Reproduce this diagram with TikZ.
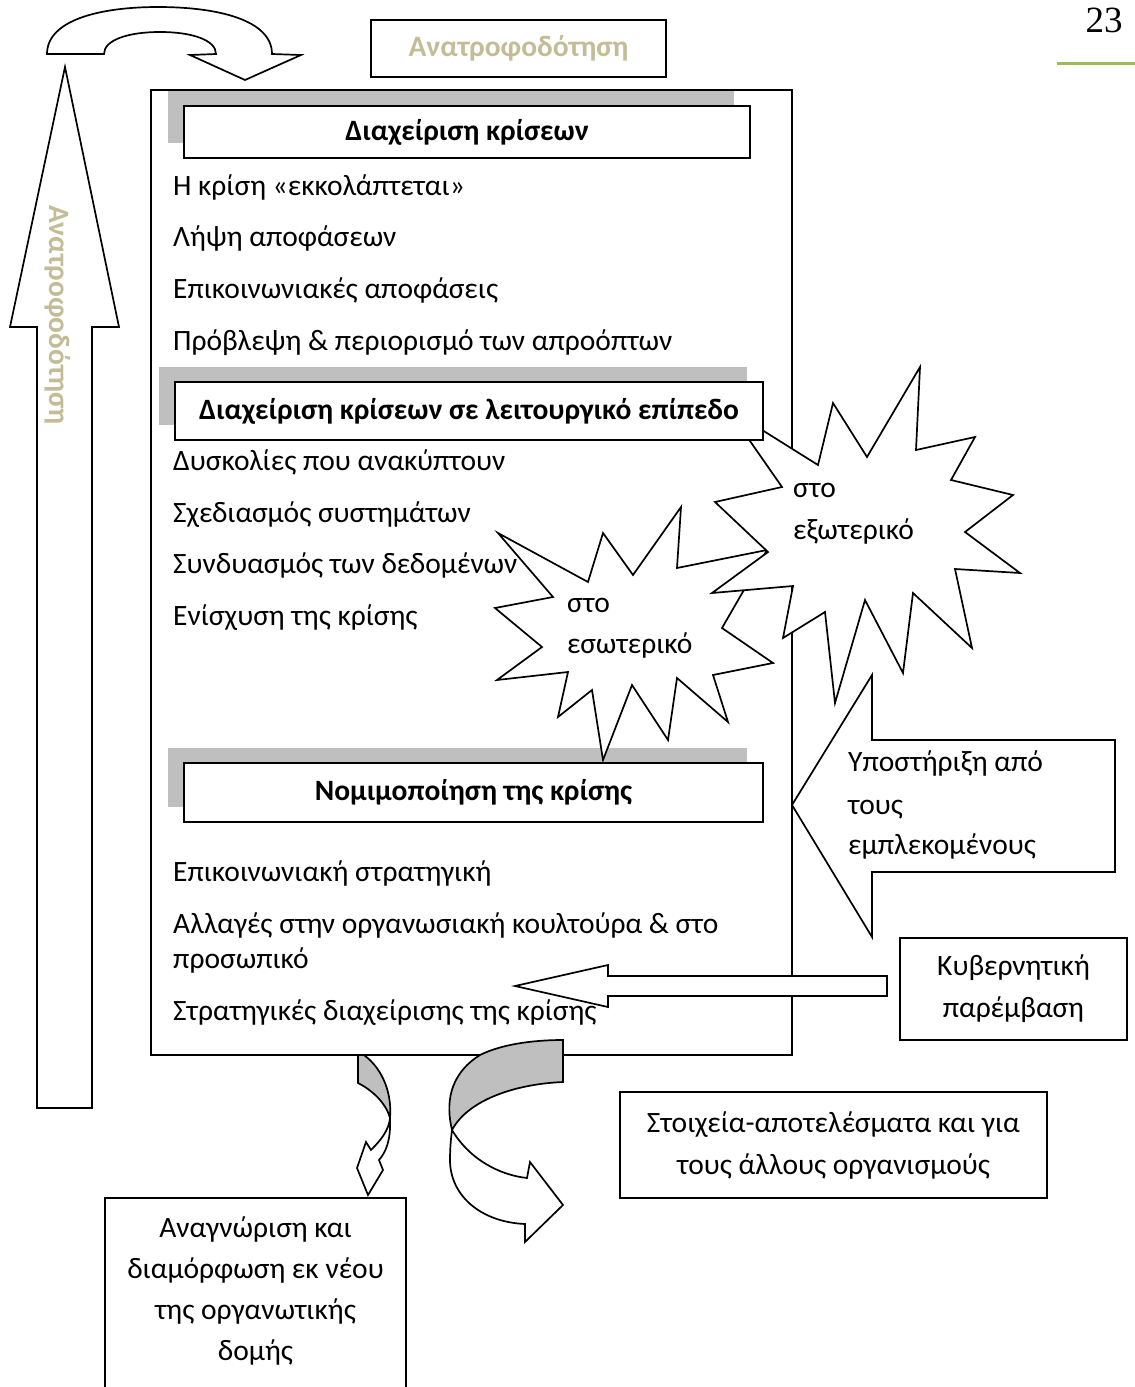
\documentclass[tikz,border=0pt]{standalone}
\usepackage{fontspec}
\setmainfont{Carlito}
\newfontfamily\pagenumfont{Liberation Serif}
\definecolor{beige}{RGB}{196,188,150}
\definecolor{shadowgrey}{RGB}{191,191,191}
\definecolor{pagegreen}{RGB}{155,187,89}
\begin{document}
\begin{tikzpicture}[x=1pt,y=-1pt,
  outline/.style={draw=black, line width=1.7pt, fill=white, line join=miter},
  body/.style={anchor=west, inner sep=0pt, font=\fontsize{29.5}{35}\selectfont, text height=20.5pt, text depth=6pt},
  head/.style={draw=black, line width=2pt, fill=white, inner sep=0pt, font=\bfseries\fontsize{29.5}{35}\selectfont},
  labelbox/.style={draw=black, line width=1.7pt, fill=white, align=center, inner sep=0pt, font=\fontsize{29.5}{42}\selectfont},
  fbtext/.style={text=beige, font=\bfseries\fontsize{29.5}{35}\selectfont, inner sep=0pt}]
\useasboundingbox[fill=white] (0,0) rectangle (1135,1387);

% page number
\node[font=\pagenumfont\fontsize{37}{40}\selectfont, inner sep=0pt] (pagenum) at (1104,20) {23};
\coordinate (gl) at (1057,63);
\coordinate (gr) at (1135,63);
\draw[pagegreen, line width=3pt] (gl) -- (gr);

% main box
\node[draw, line width=1.7pt, fill=white, minimum width=641pt, minimum height=965pt, inner sep=0pt] (mainbox) at (471.5,572.5) {};

% top feedback box
\node[draw, line width=1.7pt, fill=white, minimum width=295pt, minimum height=57pt, fbtext] (fbbox) at (518.5,48.5) {Ανατροφοδότηση};

% U-turn arrow
\draw[outline] (47,54) .. controls (47,20) and (100,7) .. (158,7) .. controls (218,7) and (272,20) .. (272,54) -- (301,55) -- (245,80) -- (190,55) -- (216,54) .. controls (216,40) and (192,32) .. (160,32) .. controls (128,32) and (104,40) .. (104,54) -- cycle;

% left up arrow
\draw[outline] (65,67) -- (119,327) -- (92,327) -- (92,1108) -- (37,1108) -- (37,327) -- (10,327) -- cycle;
\node[fbtext, rotate=-90] (fbleft) at (58,315) {Ανατροφοδότηση};

% header 1
\fill[shadowgrey] (168,91) rectangle (734,143);
\node[head, minimum width=566pt, minimum height=52pt] (h1) at (467,132) {Διαχείριση κρίσεων};

\node[body] (t1) at (173,188) {Η κρίση «εκκολάπτεται»};
\node[body] (t2) at (173,239) {Λήψη αποφάσεων};
\node[body] (t3) at (173,291) {Επικοινωνιακές αποφάσεις};
\node[body] (t4) at (173,343) {Πρόβλεψη \& περιορισμό των απροόπτων};

\node[body] (t5) at (173,463) {Δυσκολίες που ανακύπτουν};
\node[body] (t6) at (173,515) {Σχεδιασμός συστημάτων};
\node[body] (t7) at (173,566) {Συνδυασμός των δεδομένων};
\node[body] (t8) at (173,618) {Ενίσχυση της κρίσης};

% header 3 shadow
\fill[shadowgrey] (168,748) rectangle (747,807);

% small star (internal)
\draw[outline] (498,533) -- (553,597) -- (495,608) -- (542,647) -- (497,680) -- (568,672) -- (558,717) -- (592,690) -- (603,760) -- (632,685) -- (668,740) -- (677,678) -- (728,722) -- (713,675) -- (773,663) -- (722,628) -- (767,550) -- (677,568) -- (681,507) -- (633,575) -- (603,533) -- (588,582) -- cycle;
\node[body] (s1a) at (567,605) {στο};
\node[body] (s1b) at (567,646) {εσωτερικό};

% big star (external)
\draw[outline] (920,367) -- (916,450) -- (975,437) -- (951,480) -- (1013,495) -- (965,532) -- (1020,573) -- (955,569) -- (972,648) -- (913,593) -- (903,673) -- (865,600) -- (835,703) -- (825,612) -- (783,638) -- (793,586) -- (712,593) -- (768,552) -- (715,502) -- (782,487) -- (727,408) -- (818,465) -- (833,403) -- (867,457) -- cycle;
\node[body] (s2a) at (793,490) {στο};
\node[body] (s2b) at (793,532) {εξωτερικό};

% header 2
\fill[shadowgrey] (159,367) rectangle (747,425);
\node[head, minimum width=588pt, minimum height=58pt] (h2) at (469,411) {Διαχείριση κρίσεων σε λειτουργικό επίπεδο};

% header 3
\node[head, minimum width=579pt, minimum height=59pt] (h3) at (473.5,792.5) {Νομιμοποίηση της κρίσης};

\node[body] (t9) at (173,874) {Επικοινωνιακή στρατηγική};
\node[body] (t10) at (173,926) {Αλλαγές στην οργανωσιακή κουλτούρα \& στο};
\node[body] (t11) at (173,961) {προσωπικό};
\node[body] (t12) at (173,1013) {Στρατηγικές διαχείρισης της κρίσης};

% support arrow
\draw[outline] (792,805) -- (872,675) -- (872,740) -- (1115,740) -- (1115,872) -- (872,872) -- (872,937) -- cycle;
\node[body] (sup1) at (848,764) {Υποστήριξη από};
\node[body] (sup2) at (848,807) {τους};
\node[body] (sup3) at (848,847) {εμπλεκομένους};

% government box and arrow
\node[labelbox, minimum width=227pt, minimum height=102pt] (gov) at (1013.5,989) {Κυβερνητική\\παρέμβαση};
\draw[outline] (887,976) -- (608,976) -- (608,965) -- (515,986) -- (608,1007) -- (608,996) -- (887,996) -- cycle;

% results box
\node[labelbox, minimum width=427pt, minimum height=106pt] (res) at (833.5,1145) {Στοιχεία-αποτελέσματα και για\\τους άλλους οργανισμούς};

% bottom box
\node[draw, line width=1.7pt, fill=white, minimum width=301pt, minimum height=200pt, inner sep=0pt] (bbox) at (255.5,1298) {};
\node[align=center, inner sep=0pt, font=\fontsize{29.5}{41}\selectfont] (btext) at (255.5,1291) {Αναγνώριση και\\διαμόρφωση εκ νέου\\της οργανωτικής\\δομής};

% small curved arrow
\draw[outline, fill=shadowgrey] (358,1055) -- (364,1055) .. controls (384,1070) and (392,1095) .. (390,1118) .. controls (386,1103) and (372,1090) .. (358,1083) -- cycle;
\draw[outline] (390,1118) .. controls (391,1140) and (386,1152) .. (379,1160) -- (383,1170) -- (368,1195) -- (357,1168) -- (366,1142) -- (371,1150) .. controls (381,1140) and (389,1130) .. (390,1118) -- cycle;

% big curved arrow
\draw[outline, fill=shadowgrey] (563,1040) -- (563,1082) .. controls (515,1084) and (468,1100) .. (452,1130) .. controls (446,1105) and (448,1075) .. (480,1055) .. controls (500,1045) and (530,1040) .. (563,1040) -- cycle;
\draw[outline] (452,1130) .. controls (470,1160) and (500,1175) .. (527,1178) -- (530,1162) -- (563,1205) -- (525,1242) -- (525,1224) .. controls (480,1222) and (450,1195) .. (450,1160) .. controls (450,1148) and (451,1138) .. (452,1130) -- cycle;
\end{tikzpicture}
\end{document}
